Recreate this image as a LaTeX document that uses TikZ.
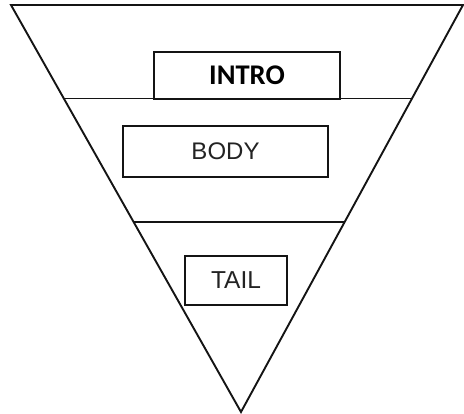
\documentclass[tikz,border=0pt]{standalone}
\usepackage{fontspec}
\usetikzlibrary{calc}
\newfontfamily\introfont{Carlito}
\newfontfamily\labelfont{Liberation Sans}
\definecolor{ink}{RGB}{20,20,20}
\definecolor{labelgray}{RGB}{35,35,35}

\begin{document}
\begin{tikzpicture}[x=1pt, y=-1pt, line width=1.9pt,
    partbox/.style={draw=ink, fill=white, line width=1.8pt, inner sep=0pt}]
        \useasboundingbox (0,0) rectangle (464,414);
        % funnel outline
        \coordinate (tl) at (11,5);
        \coordinate (tr) at (463,5);
        \coordinate (apex) at (241,412);
        \draw[ink, line join=miter] (tl) -- (tr) -- (apex) -- cycle;
        % dividing lines
        \draw[ink] ($(tl)!0.2297!(apex)$) -- ($(tr)!0.2297!(apex)$);
        \draw[ink] ($(tl)!0.533!(apex)$) -- ($(tr)!0.533!(apex)$);
        % section boxes
        \node[partbox, minimum width=186pt, minimum height=47pt,
          font=\introfont\bfseries\fontsize{28.5}{32}\selectfont] (intro)
          at (247,75.5) {INTRO};
        \node[partbox, minimum width=205pt, minimum height=51pt,
          text=labelgray, font=\labelfont\fontsize{24}{28}\selectfont] (body)
          at (225.5,151.5) {BODY};
        \node[partbox, minimum width=102pt, minimum height=49pt,
          text=labelgray, font=\labelfont\fontsize{24.5}{28}\selectfont] (tail)
          at (236,280.5) {TAIL};
      \end{tikzpicture}
\end{document}
